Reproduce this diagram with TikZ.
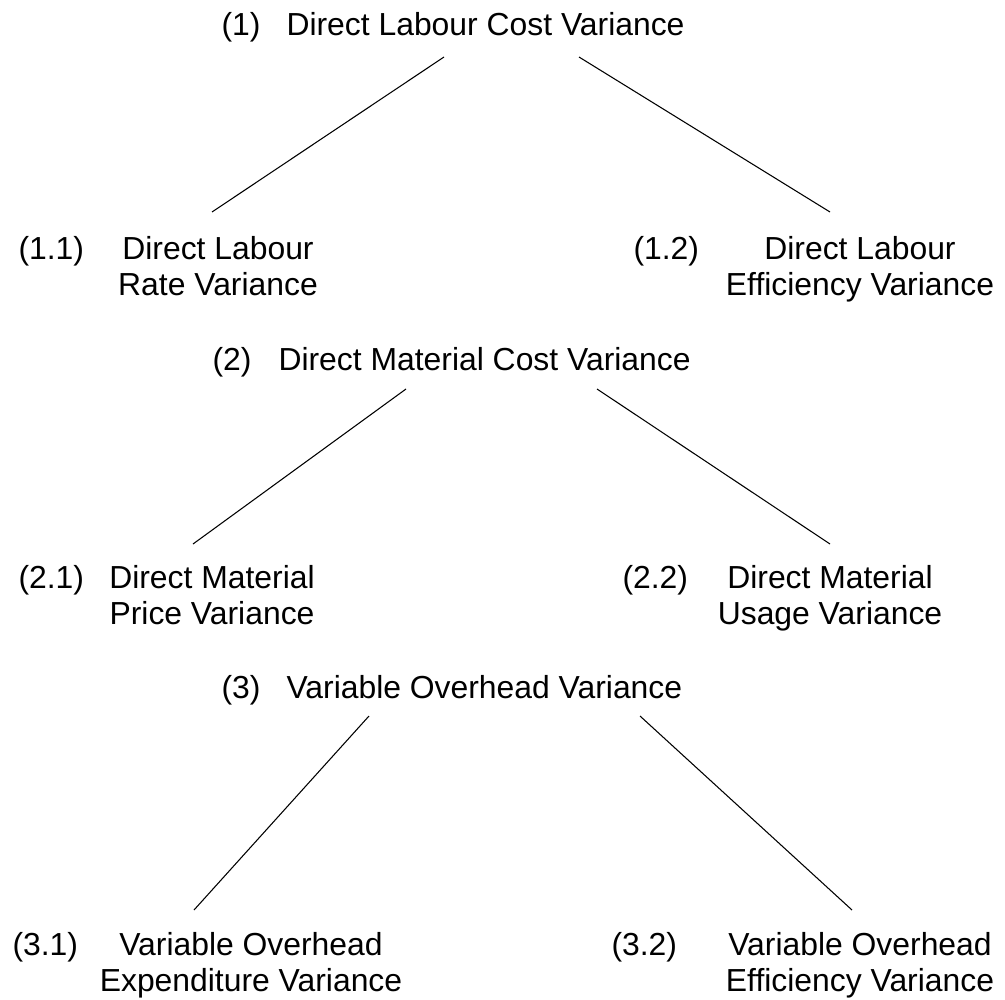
\documentclass[tikz,border=0pt]{standalone}
\usepackage{fontspec}
\setmainfont{Liberation Sans}
\begin{document}
\begin{tikzpicture}[x=0.75pt,y=-0.75pt,line width=0.8pt,
		every node/.style={font=\fontsize{23.9}{27}\selectfont,inner sep=0pt},
		num/.style={anchor=base west},
		title/.style={anchor=base west},
		sub/.style={anchor=base,align=center}]
		\useasboundingbox (0,0) rectangle (1005,999);
		
		% labour
		\node [num] (n1) at (221,36) {(1)};
		\node [title] (dlcv) at (286,36) {Direct Labour Cost Variance};
		\node [num] (n11) at (18,259) {(1.1)};
		\node [sub] (dlrv) at (218,295) {Direct Labour\\Rate Variance};
		\node [num] (n12) at (633,259) {(1.2)};
		\node [sub] (dlev) at (860,295) {Direct Labour\\Efficiency Variance};
		\coordinate (dlcv-l) at (444,57);
		\coordinate (dlcv-r) at (579,57);
		\coordinate (dlrv-t) at (212,212);
		\coordinate (dlev-t) at (830,212);
		\draw (dlcv-l)--(dlrv-t);
		\draw (dlcv-r)--(dlev-t);
		
		% material
		\node [num] (n2) at (212,370) {(2)};
		\node [title] (dmcv) at (278,370) {Direct Material Cost Variance};
		\node [num] (n21) at (18,588) {(2.1)};
		\node [sub] (dmpv) at (212,624) {Direct Material\\Price Variance};
		\node [num] (n22) at (622,588) {(2.2)};
		\node [sub] (dmuv) at (830,624) {Direct Material\\Usage Variance};
		\coordinate (dmcv-l) at (406,389);
		\coordinate (dmcv-r) at (597,389);
		\coordinate (dmpv-t) at (193,544);
		\coordinate (dmuv-t) at (830,544);
		\draw (dmcv-l)--(dmpv-t);
		\draw (dmcv-r)--(dmuv-t);
		
		% overhead
		\node [num] (n3) at (221,698) {(3)};
		\node [title] (vov) at (286,698) {Variable Overhead Variance};
		\node [num] (n31) at (12,955) {(3.1)};
		\node [sub] (voxv) at (251,991) {Variable Overhead\\Expenditure Variance};
		\node [num] (n32) at (611,955) {(3.2)};
		\node [sub] (voev) at (860,991) {Variable Overhead\\Efficiency Variance};
		\coordinate (vov-l) at (369,716);
		\coordinate (vov-r) at (640,716);
		\coordinate (voxv-t) at (194,910);
		\coordinate (voev-t) at (852,910);
		\draw (vov-l)--(voxv-t);
		\draw (vov-r)--(voev-t);
\end{tikzpicture}
\end{document}
